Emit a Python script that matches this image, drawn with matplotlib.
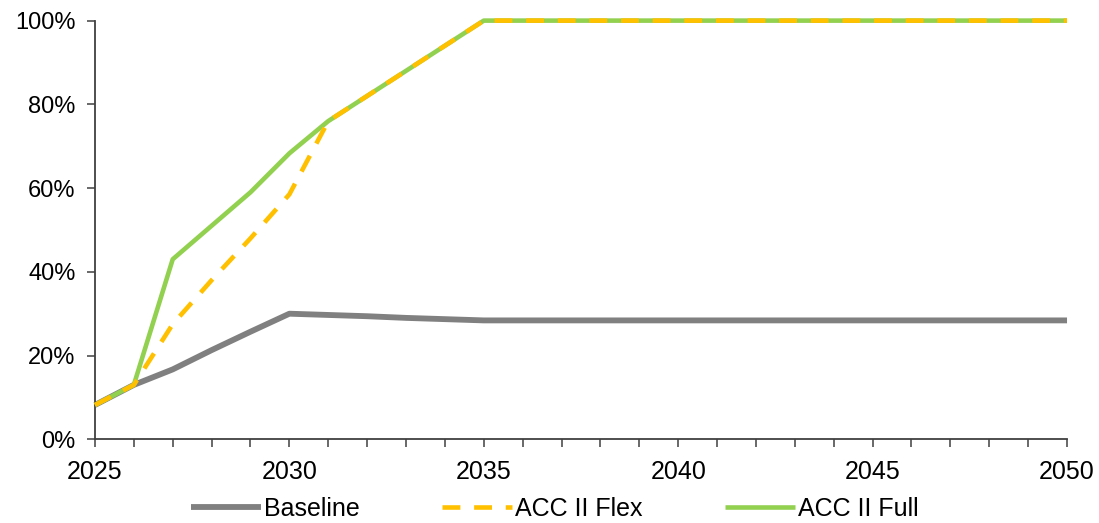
import matplotlib.pyplot as plt
from matplotlib.ticker import MultipleLocator, PercentFormatter

plt.rcParams['font.family'] = ['Liberation Sans', 'DejaVu Sans']

# share of new sales per scenario, percent
years = list(range(2025, 2051))
baseline = [8.2, 13.0, 16.7, 21.3, 25.7, 30.0, 29.7, 29.4, 29.0, 28.7, 28.4] + [28.4] * 15
acc2_flex = [8.2, 13.0, 27.5, 38.0, 48.0, 58.5, 76.0, 82.0, 88.0, 94.0, 100.0] + [100.0] * 15
acc2_full = [8.2, 13.0, 43.0, 51.0, 59.0, 68.3, 76.0, 82.0, 88.0, 94.0, 100.0] + [100.0] * 15

fig = plt.figure(figsize=(10.99, 5.23), dpi=100)
ax = fig.add_axes([0.0864, 0.160, 0.8845, 0.8006])

# lines sit on the 100% edge, so don't clip them to the axes box
ax.plot(years, baseline, color='#808080', lw=4.2, label='Baseline',
        solid_capstyle='butt', clip_on=False)
ax.plot(years, acc2_full, color='#92D050', lw=3.3, label='ACC II Full',
        solid_capstyle='butt', zorder=3, clip_on=False)
ax.plot(years, acc2_flex, color='#FFC000', lw=3.3, label='ACC II Flex',
        dashes=(3.9, 3.0), dash_capstyle='butt', zorder=4, clip_on=False)

ax.set_xlim(2025, 2050)
ax.set_ylim(0, 100)
ax.xaxis.set_major_locator(MultipleLocator(5))
ax.xaxis.set_minor_locator(MultipleLocator(1))
ax.yaxis.set_major_locator(MultipleLocator(20))
ax.yaxis.set_major_formatter(PercentFormatter(decimals=0))

for side in ('top', 'right'):
    ax.spines[side].set_visible(False)
for side in ('left', 'bottom'):
    ax.spines[side].set_color('#404040')
    ax.spines[side].set_linewidth(1.3)

ax.tick_params(axis='x', which='both', direction='out', length=6, width=1.1,
               color='#404040', labelsize=18, pad=9)
ax.tick_params(axis='y', direction='out', length=6, width=1.1,
               color='#404040', labelsize=17, pad=8)

h, l = ax.get_legend_handles_labels()
order = [0, 2, 1]
fig.legend([h[i] for i in order], [l[i] for i in order], loc='center',
           bbox_to_anchor=(0.505, 0.027), ncol=3, frameon=False, fontsize=18,
           handlelength=2.8, handletextpad=0.12, columnspacing=3.3)

fig.savefig('out.png', dpi=100)
